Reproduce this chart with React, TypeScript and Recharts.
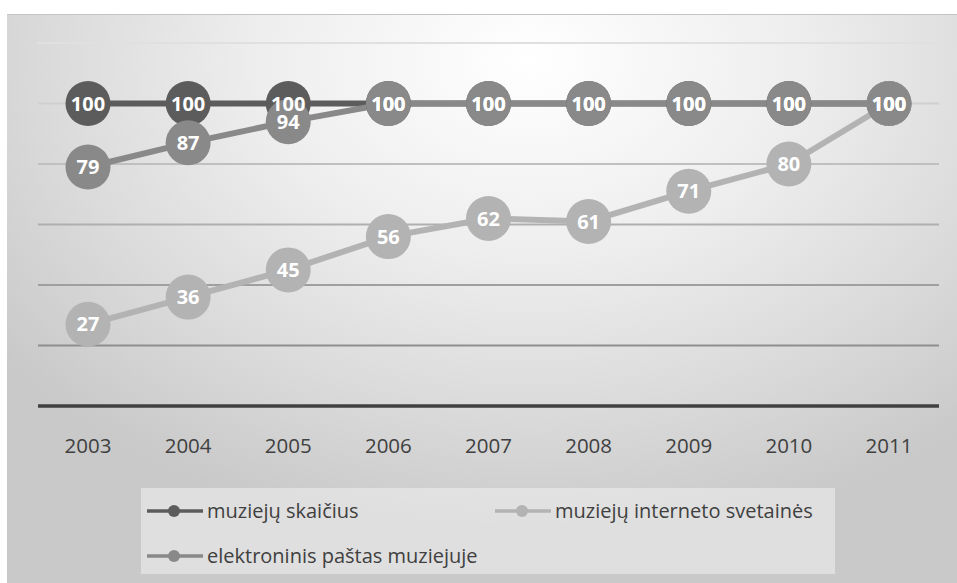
import { LineChart, Line, XAxis, YAxis, CartesianGrid, LabelList } from "recharts";

const years = ["2003", "2004", "2005", "2006", "2007", "2008", "2009", "2010", "2011"];
const muziejuSkaicius = [100, 100, 100, 100, 100, 100, 100, 100, 100];
const interneto = [27, 36, 45, 56, 62, 61, 71, 80, 100];
const pastas = [79, 87, 94, 100, 100, 100, 100, 100, 100];
const yTicks = [0, 20, 40, 60, 80, 100, 120];

const series = [
  { key: "skaicius", name: "muziejų skaičius", color: "#5c5c5c" },
  { key: "interneto", name: "muziejų interneto svetainės", color: "#b3b3b3" },
  { key: "pastas", name: "elektroninis paštas muziejuje", color: "#898989" },
];

const data = years.map((year, i) => ({
  year,
  skaicius: muziejuSkaicius[i],
  interneto: interneto[i],
  pastas: pastas[i],
}));

const FONT = "'Open Sans', sans-serif";

function LegendIcon({ color }: { color: string }) {
  return (
    <svg width={56} height={14} style={{ display: "block" }}>
      <line x1={0} y1={7} x2={56} y2={7} stroke={color} strokeWidth={3.5} />
      <circle cx={27} cy={7} r={6} fill={color} />
    </svg>
  );
}

function LegendBox() {
  const pos = [
    { left: 6, top: 9 },
    { left: 354, top: 9 },
    { left: 6, top: 54 },
  ];
  return (
    <div
      style={{
        position: "absolute",
        left: 134,
        top: 473,
        width: 694,
        height: 86,
        background: "rgba(240,240,240,0.55)",
      }}
    >
      {series.map((s, i) => (
        <div
          key={s.key}
          style={{
            position: "absolute",
            left: pos[i].left,
            top: pos[i].top,
            display: "flex",
            alignItems: "center",
            gap: 4,
            fontFamily: FONT,
            fontSize: 20,
            color: "#404040",
            whiteSpace: "nowrap",
            lineHeight: "28px",
          }}
        >
          <LegendIcon color={s.color} />
          <span>{s.name}</span>
        </div>
      ))}
    </div>
  );
}

export default function App() {
  return (
    <div style={{ position: "absolute", left: 0, top: 0, width: 957, height: 583, background: "#fff" }}>
      <div
        style={{
          position: "absolute",
          left: 7,
          top: 14,
          width: 950,
          height: 569,
          borderTop: "1px solid #c4c4c4",
          boxSizing: "border-box",
          background:
            "radial-gradient(ellipse 70% 85% at 55% 8%, #ffffff 0%, #eeeeee 40%, #dcdcdc 70%, #c9c9c9 100%)",
        }}
      >
        <LineChart
          width={950}
          height={568}
          data={data}
          margin={{ top: 28, right: 18, left: 31, bottom: 97 }}
        >
          <defs>
            <linearGradient id="gridShade" gradientUnits="userSpaceOnUse" x1={0} y1={20} x2={0} y2={340}>
              <stop offset="0%" stopColor="#e2e2e2" />
              <stop offset="100%" stopColor="#8c8c8c" />
            </linearGradient>
          </defs>
          <CartesianGrid vertical={false} stroke="url(#gridShade)" strokeWidth={2} />
          <YAxis hide domain={[0, 120]} ticks={yTicks} width={0} />
          <XAxis
            dataKey="year"
            height={80}
            padding={{ left: 50, right: 50 }}
            axisLine={{ stroke: "#404040", strokeWidth: 3.5 }}
            tickLine={false}
            tickMargin={26}
            tick={{ fill: "#404040", fontSize: 20.5, fontFamily: FONT }}
          />
          {series.map((s) => (
            <Line
              key={s.key}
              dataKey={s.key}
              name={s.name}
              stroke={s.color}
              strokeWidth={6}
              dot={{ r: 22.5, fill: s.color, stroke: "none" }}
              activeDot={false}
              isAnimationActive={false}
            />
          ))}
          {/* labels drawn after all series so they sit on top, as in the original */}
          {series.map((s) => (
            <Line
              key={s.key + "-labels"}
              dataKey={s.key}
              stroke="none"
              dot={false}
              activeDot={false}
              legendType="none"
              isAnimationActive={false}
            >
              <LabelList
                dataKey={s.key}
                position="center"
                fill="#ffffff"
                fontSize={20}
                fontWeight="bold"
                fontFamily={FONT}
              />
            </Line>
          ))}
        </LineChart>
        <LegendBox />
      </div>
    </div>
  );
}
